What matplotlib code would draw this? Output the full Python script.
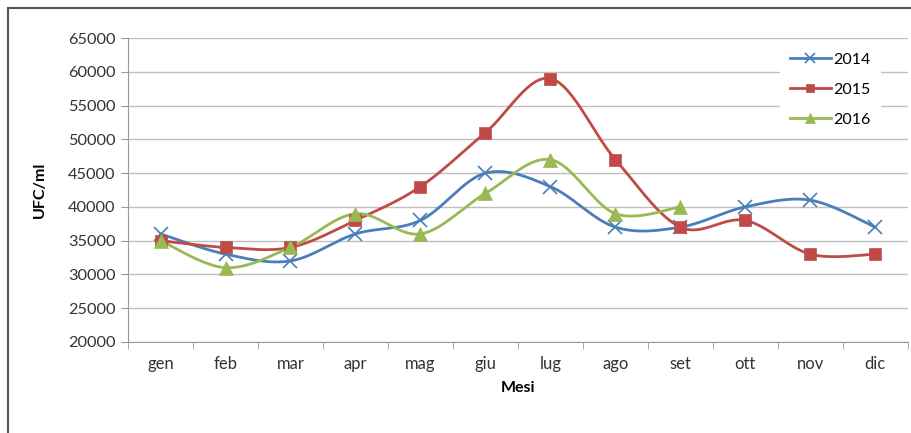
import numpy as np
import matplotlib.pyplot as plt
from matplotlib.lines import Line2D

plt.rcParams['font.family'] = ['Lato', 'DejaVu Sans']

months = ['gen', 'feb', 'mar', 'apr', 'mag', 'giu', 'lug', 'ago', 'set', 'ott', 'nov', 'dic']
ufc_2014 = [36000, 33000, 32000, 36000, 38000, 45000, 43000, 37000, 37000, 40000, 41000, 37000]
ufc_2015 = [35000, 34000, 34000, 38000, 43000, 51000, 59000, 47000, 37000, 38000, 33000, 33000]
ufc_2016 = [35000, 31000, 34000, 39000, 36000, 42000, 47000, 39000, 40000]


def smooth(xs, ys, n=30):
    # Excel-like smoothing: Catmull-Rom through the points, drawn as Bezier segments
    x = np.asarray(xs, float)
    y = np.asarray(ys, float)
    px = np.concatenate([[x[0]], x, [x[-1]]])
    py = np.concatenate([[y[0]], y, [y[-1]]])
    t = np.linspace(0, 1, n)[:, None]
    out_x, out_y = [], []
    for i in range(1, len(x)):
        p0 = np.array([px[i - 1], py[i - 1]])
        p1 = np.array([px[i], py[i]])
        p2 = np.array([px[i + 1], py[i + 1]])
        p3 = np.array([px[i + 2], py[i + 2]])
        c1 = p1 + (p2 - p0) / 6
        c2 = p2 - (p3 - p1) / 6
        b = ((1 - t) ** 3) * p1 + 3 * ((1 - t) ** 2) * t * c1 + 3 * (1 - t) * t ** 2 * c2 + t ** 3 * p2
        out_x.extend(b[:, 0])
        out_y.extend(b[:, 1])
    return out_x, out_y


fig = plt.figure(figsize=(9.12, 4.33), dpi=100)
ax = fig.add_axes([0.1404, 0.2102, 0.855, 0.702])

series = [
    ('2014', ufc_2014, '#4a7ebb', 'x', 9.5, 1.2),
    ('2015', ufc_2015, '#be4b48', 's', 8.5, 0),
    ('2016', ufc_2016, '#98b954', '^', 9.5, 0),
]

handles = []
for label, vals, col, mk, ms, mew in series:
    xs = np.arange(len(vals))
    sx, sy = smooth(xs, vals)
    ax.plot(sx, sy, color=col, lw=2.0, zorder=3)
    ax.plot(xs, vals, linestyle='none', marker=mk, markersize=ms,
            color=col, markeredgewidth=mew if mew else 0.5, markeredgecolor=col, zorder=4)
    handles.append(Line2D([], [], color=col, lw=2.0, marker=mk, markersize=ms - 2.5,
                          markeredgewidth=mew if mew else 0.5, markeredgecolor=col))

ax.set_xlim(-0.5, 11.5)
ax.set_ylim(20000, 65000)
ax.set_yticks(np.arange(20000, 65001, 5000))
ax.set_xticks(np.arange(12))
ax.set_xticklabels(months)
ax.set_xticks(np.arange(-0.5, 12, 1), minor=True)
ax.tick_params(axis='x', which='major', length=0, pad=10, labelsize=12, colors='#333333')
ax.tick_params(axis='x', which='minor', length=5, color='#999999', direction='out')
ax.tick_params(axis='y', length=5, color='#999999', labelsize=11.8, labelcolor='#333333', pad=4)
ax.grid(axis='y', color='#bfbfbf', lw=1.0)
ax.set_axisbelow(True)
for s in ['top', 'right']:
    ax.spines[s].set_visible(False)
for s in ['left', 'bottom']:
    ax.spines[s].set_color('#999999')

ax.set_ylabel('UFC/ml', fontsize=11.5, fontweight='bold')
ax.set_xlabel('Mesi', fontsize=11.5, fontweight='bold')
ax.yaxis.set_label_coords(-0.113, 0.5)
ax.xaxis.set_label_coords(0.5, -0.151)
ax.xaxis.label.set_va('center')
ax.yaxis.label.set_va('center')

leg = ax.legend(handles, ['2014', '2015', '2016'], loc='upper left',
                bbox_to_anchor=(0.826, 1.01), frameon=True, fontsize=11.5,
                handlelength=2.6, labelspacing=1.0, borderpad=0.6, handletextpad=0.15)
leg.get_frame().set_facecolor('white')
leg.get_frame().set_edgecolor('none')
leg.get_frame().set_alpha(1)

# outer frame (top and left edge)
fig.add_artist(Line2D([8 / 912, 1], [1 - 8 / 433, 1 - 8 / 433], transform=fig.transFigure,
                      color='#555555', lw=1.5))
fig.add_artist(Line2D([8 / 912, 8 / 912], [0, 1 - 8 / 433], transform=fig.transFigure,
                      color='#555555', lw=1.5))

fig.savefig('out.png', dpi=100)
